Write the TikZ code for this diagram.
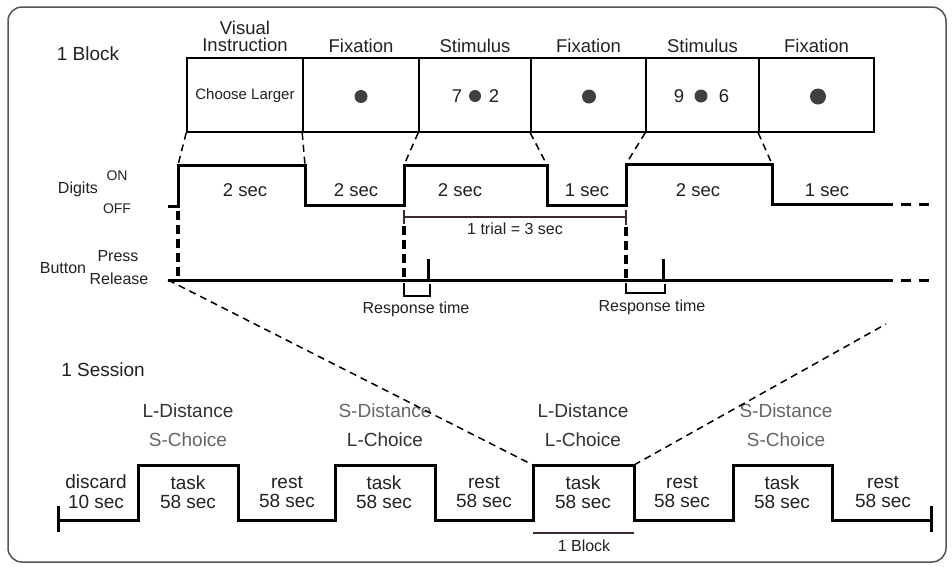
\documentclass[tikz,border=0pt]{standalone}
\usepackage{fontspec}
\setmainfont{Liberation Sans}
\definecolor{txt}{HTML}{222222}
\definecolor{lgt}{HTML}{666666}
\definecolor{frm}{HTML}{555555}
\definecolor{bar}{HTML}{3B2B2B}
\begin{document}
\begin{tikzpicture}[x=1pt,y=-1pt,
  lbl/.style={inner sep=0pt, text=txt, align=center},
  fL/.style={font=\fontsize{18.5}{17}\selectfont},
  fM/.style={font=\fontsize{16}{18}\selectfont},
  fS/.style={font=\fontsize{14}{16}\selectfont},
  fX/.style={font=\fontsize{19}{20}\selectfont},
  fC/.style={font=\fontsize{19}{19}\selectfont},
  screen/.style={draw=black, line width=1.6pt, inner sep=0pt, minimum height=74pt},
  trace/.style={line width=3pt, line join=miter, black},
  tail/.style={line width=3pt, dash pattern=on 10pt off 8pt, black},
  vdash/.style={line width=3.5pt, dash pattern=on 9pt off 5pt, black},
  link/.style={line width=1.5pt, dash pattern=on 7pt off 5pt, black},
  dotty/.style={circle, fill=black!75, inner sep=0pt}
]
\useasboundingbox (0,0) rectangle (952,566);
\fill[white] (0,0) rectangle (952,566);
\draw[frm, line width=1.5pt, rounded corners=14pt] (8,7) rectangle (946,562);

% ---------- 1 Block ----------
\node[lbl, fX] (blk) at (88,54) {1 Block};

\node[screen, minimum width=116pt] (b1) at (245,95) {};
\node[screen, minimum width=116pt] (b2) at (361,95) {};
\node[screen, minimum width=112pt] (b3) at (475,95) {};
\node[screen, minimum width=115pt] (b4) at (588.5,95) {};
\node[screen, minimum width=113pt] (b5) at (702.5,95) {};
\node[screen, minimum width=115pt] (b6) at (816.5,95) {};

\node[lbl, fL] (h1) at (245,36) {Visual\\Instruction};
\node[lbl, fL] (h2) at (361,46) {Fixation};
\node[lbl, fL] (h3) at (475,46) {Stimulus};
\node[lbl, fL] (h4) at (588.5,46) {Fixation};
\node[lbl, fL] (h5) at (702.5,46) {Stimulus};
\node[lbl, fL] (h6) at (816.5,46) {Fixation};

\node[lbl, font=\fontsize{15}{17}\selectfont] (t1) at (245,96) {Choose Larger};
\node[dotty, minimum size=13pt] (d2) at (361,96.5) {};
\node[lbl, fL] (s7) at (457,96) {7};
\node[dotty, minimum size=12pt] (d3) at (475,96) {};
\node[lbl, fL] (s2) at (494,96) {2};
\node[dotty, minimum size=14pt] (d4) at (589,96.5) {};
\node[lbl, fL] (s9) at (679,96) {9};
\node[dotty, minimum size=13pt] (d5) at (701,96) {};
\node[lbl, fL] (s6) at (724,96) {6};
\node[dotty, minimum size=16pt] (d6) at (818,96.5) {};

% Digits trace
\coordinate (p0) at (168,206);
\coordinate (p1) at (178,206);
\coordinate (p2) at (178,165);
\coordinate (p3) at (305,165);
\coordinate (p4) at (305,205);
\coordinate (p5) at (404,205);
\coordinate (p6) at (404,165);
\coordinate (p7) at (547,165);
\coordinate (p8) at (547,205);
\coordinate (p9) at (626,205);
\coordinate (p10) at (626,164);
\coordinate (p11) at (772,164);
\coordinate (p12) at (772,204);
\coordinate (p13) at (883,204);
\coordinate (p14) at (934,204);
\draw[trace] (p0) -- (p1) -- (p2) -- (p3) -- (p4) -- (p5) -- (p6) -- (p7) -- (p8) -- (p9) -- (p10) -- (p11) -- (p12) -- (p13);
\draw[tail] (p13) -- (p14);

\draw[link] (b1.south west) -- (p2);
\draw[link] (b2.south west) -- (p3);
\draw[link] (b3.south west) -- (p6);
\draw[link] (b4.south west) -- (p7);
\draw[link] (b5.south west) -- (p10);
\draw[link] (b6.south west) -- (p11);

\node[lbl, fM] (dg) at (78,189) {Digits};
\node[lbl, fS] (on) at (117,176) {ON};
\node[lbl, fS] (off) at (117,209) {OFF};

\node[lbl, fL] (i1) at (245,190) {2 sec};
\node[lbl, fL] (i2) at (356,190) {2 sec};
\node[lbl, fL] (i3) at (460,190) {2 sec};
\node[lbl, fL] (i4) at (587,190) {1 sec};
\node[lbl, fL] (i5) at (698,190) {2 sec};
\node[lbl, fL] (i6) at (827,190) {1 sec};

% trial bar
\coordinate (tr1) at (404,217);
\coordinate (tr2) at (626,217);
\draw[bar, line width=2.5pt] (tr1) -- (tr2);
\draw[bar, line width=2.5pt] (404,210) -- (404,224);
\draw[bar, line width=2.5pt] (626,210) -- (626,225);
\node[lbl, fM] (trl) at (515,229) {1 trial = 3 sec};

% Button trace
\coordinate (q0) at (168,280);
\coordinate (q1) at (883,280);
\coordinate (q2) at (934,280);
\draw[trace] (q0) -- (q1);
\draw[tail] (q1) -- (q2);
\coordinate (k1) at (428,280);
\coordinate (k2) at (663,280);
\draw[trace] (k1) -- (428,259);
\draw[trace] (k2) -- (663,259);

% dashed verticals
\coordinate (v1) at (178,280);
\coordinate (v2) at (404,280);
\coordinate (v3) at (626,280);
\draw[vdash] (178,211) -- (v1);
\draw[vdash] (404,226) -- (v2);
\draw[vdash] (626,227) -- (v3);

% response brackets
\draw[line width=2.8pt] (404,283) -- (404,296) -- (430,296) -- (430,284);
\draw[line width=2.8pt] (626,283) -- (626,293) -- (665,293) -- (665,284);
\node[lbl, fM] (rt1) at (416,309) {Response time};
\node[lbl, fM] (rt2) at (652,307) {Response time};

\node[lbl, fM] (btn) at (63,268) {Button};
\node[lbl, fM] (prs) at (118,256) {Press};
\node[lbl, fM] (rel) at (119,279) {Release};

% ---------- 1 Session ----------
\node[lbl, fX] (ses) at (103,370) {1 Session};

\coordinate (u0) at (58,520);
\coordinate (u1) at (138,520);
\coordinate (u2) at (138,465);
\coordinate (u3) at (238,465);
\coordinate (u4) at (238,520);
\coordinate (u5) at (335,520);
\coordinate (u6) at (335,465);
\coordinate (u7) at (435,465);
\coordinate (u8) at (435,520);
\coordinate (u9) at (533,520);
\coordinate (u10) at (533,465);
\coordinate (u11) at (634,465);
\coordinate (u12) at (634,520);
\coordinate (u13) at (733,520);
\coordinate (u14) at (733,465);
\coordinate (u15) at (832,465);
\coordinate (u16) at (832,520);
\coordinate (u17) at (931,520);
\draw[trace] (u0) -- (u1) -- (u2) -- (u3) -- (u4) -- (u5) -- (u6) -- (u7) -- (u8) -- (u9) -- (u10) -- (u11) -- (u12) -- (u13) -- (u14) -- (u15) -- (u16) -- (u17);
\draw[trace] (58,506) -- (58,532);
\draw[trace] (931,506) -- (931,532);

\node[lbl, fX] (c0) at (96,492) {discard\\10 sec};
\node[lbl, fC] (c1) at (188,492) {task\\58 sec};
\node[lbl, fC] (c2) at (287,492) {rest\\58 sec};
\node[lbl, fC] (c3) at (384,492) {task\\58 sec};
\node[lbl, fC] (c4) at (484,492) {rest\\58 sec};
\node[lbl, fC] (c5) at (583,492) {task\\58 sec};
\node[lbl, fC] (c6) at (682,492) {rest\\58 sec};
\node[lbl, fC] (c7) at (782,492) {task\\58 sec};
\node[lbl, fC] (c8) at (883,492) {rest\\58 sec};

\node[lbl, fC, text=black!80] (l1a) at (188,411) {L-Distance};
\node[lbl, fC, text=lgt] (l1b) at (188,440) {S-Choice};
\node[lbl, fC, text=lgt] (l2a) at (385,411) {S-Distance};
\node[lbl, fC, text=black!80] (l2b) at (385,440) {L-Choice};
\node[lbl, fC, text=black!80] (l3a) at (583,411) {L-Distance};
\node[lbl, fC, text=black!80] (l3b) at (583,440) {L-Choice};
\node[lbl, fC, text=lgt] (l4a) at (786,411) {S-Distance};
\node[lbl, fC, text=lgt] (l4b) at (786,440) {S-Choice};

% zoom links
\coordinate (z1) at (886,324);
\draw[link] (q0) -- (u10);
\draw[link] (u11) -- (z1);

% 1 Block bar
\draw[line width=2.5pt, bar] (533,533) -- (634,533);
\node[lbl, fM] (bb) at (584,546) {1 Block};
\end{tikzpicture}
\end{document}
